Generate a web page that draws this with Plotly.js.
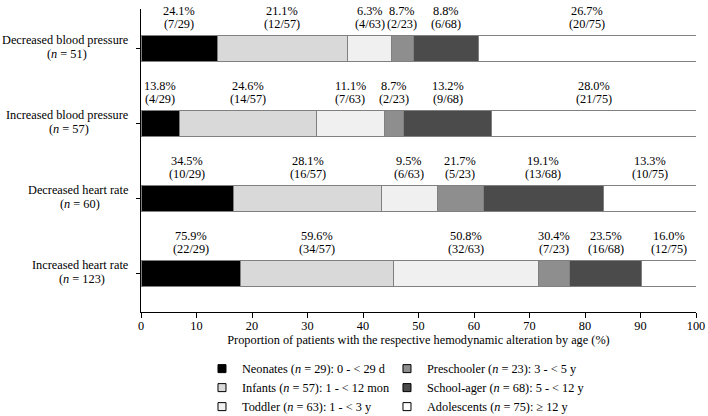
<!DOCTYPE html>
<html>
<head>
<meta charset="utf-8">
<script src="https://cdn.plot.ly/plotly-3.0.1.min.js"></script>
<style>html,body{margin:0;padding:0;background:#fff;}#chart{width:708px;height:416px;}</style>
</head>
<body>
<div id="chart"></div>
<script>
// ---- data ----
const categories = ['Decreased blood pressure', 'Increased blood pressure', 'Decreased heart rate', 'Increased heart rate'];
const categoryN = [51, 57, 60, 123];
const groups = ['Neonates', 'Infants', 'Toddler', 'Preschooler', 'School-ager', 'Adolescents'];
const groupN = [29, 57, 63, 23, 68, 75];
const groupRange = ['0 - < 29 d', '1 - < 12 mon', '1 - < 3 y', '3 - < 5 y', '5 - < 12 y', '≥ 12 y'];
// patients per age group with each alteration (same order as categories)
const neonates    = [7, 4, 10, 22];
const infants     = [12, 14, 16, 34];
const toddler     = [4, 7, 6, 32];
const preschooler = [2, 2, 5, 7];
const schoolAger  = [6, 9, 13, 16];
const adolescents = [20, 21, 10, 12];
const xTicks = [0, 10, 20, 30, 40, 50, 60, 70, 80, 90, 100];

// ---- styling ----
const series = [neonates, infants, toddler, preschooler, schoolAger, adolescents];
const fills = ['#000000', '#d9d9d9', '#f0f0f0', '#8e8e8e', '#4b4b4b', '#ffffff'];
const FONT = 'Liberation Serif, Times New Roman, serif';
const FS = 12.3;

const esc = s => s.replace(/&/g, '&amp;').replace(/</g, '&lt;').replace(/>/g, '&gt;');

const traces = [];
series.forEach((vals, g) => {
  traces.push({
    type: 'bar', orientation: 'h',
    y: categories,
    x: vals.map((v, i) => v / categoryN[i] * 100),
    width: 0.347,
    marker: {color: fills[g], line: {color: '#808080', width: 1}},
    showlegend: false, hoverinfo: 'skip'
  });
});
// legend entries
series.forEach((vals, g) => {
  traces.push({
    type: 'scatter', mode: 'markers', x: [null], y: [null],
    name: groups[g] + ' (<i>n</i> = ' + groupN[g] + '): ' + esc(groupRange[g]),
    marker: {symbol: 'square', size: 8, color: fills[g], line: {color: '#000', width: 1}},
    legend: g < 3 ? 'legend' : 'legend2', showlegend: true, hoverinfo: 'skip'
  });
});

const annotations = [];
categories.forEach((cat, i) => {
  let cum = 0;
  series.forEach((vals, g) => {
    const w = vals[i] / categoryN[i] * 100;
    const mid = cum + w / 2;
    cum += w;
    const pct = (vals[i] / groupN[g] * 100).toFixed(1) + '%';
    annotations.push({xref: 'x', yref: 'y', x: mid, y: cat, text: pct, showarrow: false,
      yshift: 37.5, xanchor: 'center', yanchor: 'middle', font: {family: FONT, size: FS, color: '#000'}});
    annotations.push({xref: 'x', yref: 'y', x: mid, y: cat, text: '(' + vals[i] + '/' + groupN[g] + ')', showarrow: false,
      yshift: 24.3, xanchor: 'center', yanchor: 'middle', font: {family: FONT, size: FS, color: '#000'}});
  });
});

// category labels: two lines, block right-aligned, lines centered
const cv = document.createElement('canvas').getContext('2d');
cv.font = FS + 'px "Liberation Serif"';
categories.forEach((cat, i) => {
  const w1 = cv.measureText(cat).width;
  annotations.push({xref: 'paper', yref: 'y', x: 0, y: cat, text: cat, showarrow: false,
    xshift: -10, yshift: 8.5, xanchor: 'right', yanchor: 'middle', font: {family: FONT, size: FS, color: '#000'}});
  annotations.push({xref: 'paper', yref: 'y', x: 0, y: cat, text: '(<i>n</i> = ' + categoryN[i] + ')', showarrow: false,
    xshift: -11 - w1 / 2, yshift: -5, xanchor: 'center', yanchor: 'middle', font: {family: FONT, size: FS, color: '#000'}});
});

const legendCommon = {
  orientation: 'v', xref: 'paper', yref: 'paper', xanchor: 'left', yanchor: 'top',
  y: -0.139, bgcolor: 'rgba(0,0,0,0)', borderwidth: 0, traceorder: 'normal',
  font: {family: FONT, size: FS, color: '#000'}, tracegroupgap: 0
};

const layout = {
  width: 708, height: 416,
  margin: {l: 141, r: 12, t: 9, b: 104, autoexpand: false},
  paper_bgcolor: '#fff', plot_bgcolor: '#fff',
  font: {family: FONT, size: FS, color: '#000'},
  barmode: 'stack', bargap: 0,
  xaxis: {
    range: [0, 100], tickvals: xTicks, ticktext: xTicks.map(String),
    showgrid: false, zeroline: false, showline: true, linecolor: '#000', linewidth: 1,
    ticks: 'outside', ticklen: 5, tickcolor: '#000', tickwidth: 1, ticklabelstandoff: -3,
    tickfont: {family: FONT, size: FS, color: '#000'},
    title: {text: 'Proportion of patients with the respective hemodynamic alteration by age (%)',
      font: {family: FONT, size: FS, color: '#000'}, standoff: 2}
  },
  yaxis: {
    type: 'category', categoryorder: 'array', categoryarray: categories,
    range: [3.511, -0.529],
    showgrid: false, zeroline: false, showline: true, linecolor: '#000', linewidth: 1,
    ticks: 'outside', ticklen: 4, tickcolor: '#000', showticklabels: false
  },
  legend: Object.assign({}, legendCommon, {x: 0.1099}),
  legend2: Object.assign({}, legendCommon, {x: 0.4432}),
  annotations: annotations,
  showlegend: true
};

Plotly.newPlot('chart', traces, layout, {staticPlot: true, displayModeBar: false});
</script>
</body>
</html>
